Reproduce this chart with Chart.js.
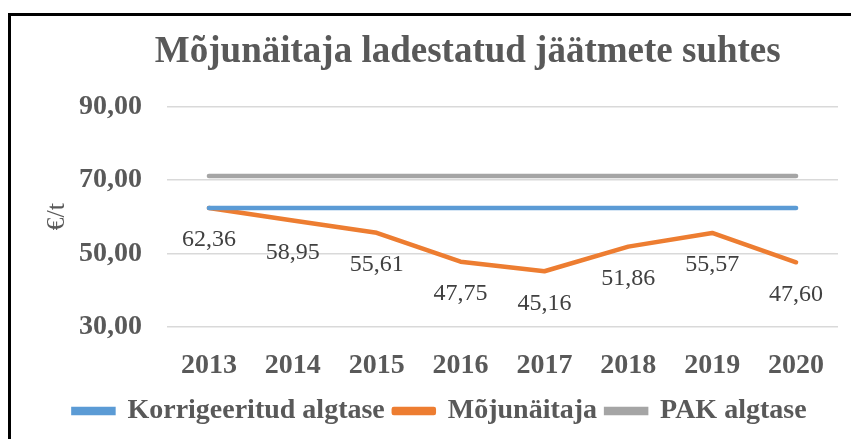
<!DOCTYPE html>
<html>
<head>
<meta charset="utf-8">
<script src="https://cdn.jsdelivr.net/npm/chart.js@4.4.1/dist/chart.umd.min.js"></script>
<style>
    html, body { margin: 0; padding: 0; background: #fff; overflow: hidden; }
    #wrap { position: relative; width: 851px; height: 439px; }
    #frame {
        position: absolute; left: 8px; top: 13px; width: 900px; height: 500px;
        border-left: 3px solid #000; border-top: 3px solid #000; pointer-events: none;
    }
    canvas { position: absolute; left: 0; top: 0; }
</style>
</head>
<body>
<div id="wrap">
    <canvas id="impactChart" width="851" height="439"></canvas>
    <div id="frame"></div>
</div>
<script>
// Data
const years = ['2013', '2014', '2015', '2016', '2017', '2018', '2019', '2020'];
const korrigeeritudAlgtase = [62.36, 62.36, 62.36, 62.36, 62.36, 62.36, 62.36, 62.36];
const mojunaitaja = [62.36, 58.95, 55.61, 47.75, 45.16, 51.86, 55.57, 47.60];
const pakAlgtase = [71.1, 71.1, 71.1, 71.1, 71.1, 71.1, 71.1, 71.1];
const yTicks = [30, 50, 70, 90];

const SERIF = "'Liberation Serif', 'Times New Roman', serif";
const GREY_TEXT = '#595959';

const fmt = (v) => v.toFixed(2).replace('.', ',');

// draws the value labels under the Mõjunäitaja points
const valueLabels = {
    id: 'valueLabels',
    afterDatasetsDraw(chart) {
        const meta = chart.getDatasetMeta(1);
        const ctx = chart.ctx;
        ctx.save();
        ctx.font = '24px ' + SERIF;
        ctx.fillStyle = '#404040';
        ctx.textAlign = 'center';
        ctx.textBaseline = 'middle';
        meta.data.forEach((pt, i) => {
            ctx.fillText(fmt(mojunaitaja[i]), pt.x, pt.y + 32);
        });
        ctx.restore();
    }
};

const ctx = document.getElementById('impactChart');
new Chart(ctx, {
    type: 'line',
    data: {
        labels: years,
        datasets: [
            {
                label: 'Korrigeeritud algtase',
                data: korrigeeritudAlgtase,
                borderColor: '#5b9bd5',
                backgroundColor: '#5b9bd5',
                borderWidth: 4.5,
                borderCapStyle: 'round',
                pointRadius: 0
            },
            {
                label: 'Mõjunäitaja',
                data: mojunaitaja,
                borderColor: '#ed7d31',
                backgroundColor: '#ed7d31',
                borderWidth: 4.5,
                borderCapStyle: 'round',
                borderJoinStyle: 'round',
                pointRadius: 0
            },
            {
                label: 'PAK algtase',
                data: pakAlgtase,
                borderColor: '#a5a5a5',
                backgroundColor: '#a5a5a5',
                borderWidth: 4.5,
                borderCapStyle: 'round',
                pointRadius: 0
            }
        ]
    },
    options: {
        responsive: false,
        animation: false,
        layout: { padding: { left: 42, right: 13, top: 0, bottom: 4 } },
        scales: {
            x: {
                offset: true,
                grid: { display: false },
                border: { display: false },
                ticks: {
                    color: GREY_TEXT,
                    font: { family: SERIF, size: 28, weight: 'bold' },
                    padding: 14,
                    maxRotation: 0
                },
                afterFit: (scale) => { scale.height = 61; }
            },
            y: {
                min: 30,
                max: 90,
                afterBuildTicks: (scale) => {
                    scale.ticks = yTicks.map(v => ({ value: v }));
                },
                grid: { color: '#d9d9d9', lineWidth: 1.5, drawTicks: false },
                border: { display: false },
                ticks: {
                    color: GREY_TEXT,
                    font: { family: SERIF, size: 28, weight: 'bold' },
                    padding: 25,
                    callback: (v) => fmt(v)
                },
                title: {
                    display: true,
                    text: '€/t',
                    color: GREY_TEXT,
                    font: { family: SERIF, size: 26 },
                    padding: { top: 0, bottom: 0 }
                },
                afterFit: (scale) => { scale.width = 125; }
            }
        },
        plugins: {
            title: {
                display: true,
                text: '\u00a0\u00a0\u00a0\u00a0\u00a0\u00a0Mõjunäitaja ladestatud jäätmete suhtes',
                color: GREY_TEXT,
                font: { family: SERIF, size: 37, weight: 'bold' },
                padding: { top: 30, bottom: 32 }
            },
            legend: {
                position: 'bottom',
                labels: {
                    color: GREY_TEXT,
                    font: { family: SERIF, size: 28, weight: 'bold' },
                    boxWidth: 40,
                    boxHeight: 4,
                    padding: 9
                }
            },
            tooltip: { enabled: false }
        }
    },
    plugins: [valueLabels]
});
</script>
</body>
</html>
